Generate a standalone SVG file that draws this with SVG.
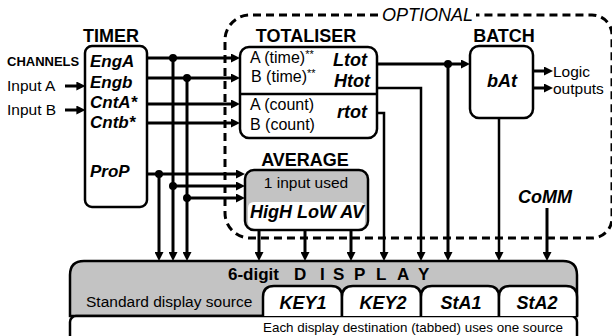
<svg xmlns="http://www.w3.org/2000/svg" width="612" height="336" viewBox="0 0 612 336">
<defs>
<style>
.box{fill:#fff;stroke:#000;stroke-width:2.5}
.grey{fill:#c3c3c3;stroke:#000;stroke-width:2.5}
.ln{fill:none;stroke:#000;stroke-width:3}
.th{fill:none;stroke:#000;stroke-width:2.5}
.dash{fill:none;stroke:#000;stroke-width:3;stroke-dasharray:8 5}
.t{font-family:"Liberation Sans",Arial,sans-serif;fill:#000}
.r{font-size:15.5px}
.r16{font-size:16px}
.h{font-size:18px;font-weight:bold}
.bi{font-size:18px;font-weight:bold;font-style:italic}
.tl{font-size:17px;font-weight:bold;font-style:italic}
</style>
<marker id="ah" viewBox="0 0 10 10" refX="4" refY="5" markerWidth="9" markerHeight="9" markerUnits="userSpaceOnUse" orient="auto">
<path d="M0,0 L10,5 L0,10 Z" fill="#000"/>
</marker>
</defs>
<rect width="612" height="336" fill="#fff"/>

<g id="optional">
<path class="dash" d="M378,15 H250 A25,25 0 0 0 225,40 V213 A25,25 0 0 0 250,238 H592 A20,20 0 0 0 612,218 V35 A20,20 0 0 0 592,15 H476"/>
<text class="t" x="382" y="21" font-size="18" font-style="italic">OPTIONAL</text>
</g>

<g id="timer">
<text class="t h" x="111" y="42" text-anchor="middle">TIMER</text>
<rect class="box" x="85" y="46" width="62" height="161" rx="7"/>
<text class="t tl" x="90" y="67">EngA</text>
<text class="t tl" x="90" y="87.5">Engb</text>
<text class="t tl" x="90" y="107.5">CntA*</text>
<text class="t tl" x="90" y="127.5">Cntb*</text>
<text class="t tl" x="90" y="177">ProP</text>
</g>

<g id="inputs">
<text class="t" x="7" y="66" font-size="13" font-weight="bold">CHANNELS</text>
<text class="t r" x="7" y="91">Input A</text>
<text class="t r" x="7" y="115">Input B</text>
</g>

<g id="totaliser">
<text class="t h" x="306" y="42" text-anchor="middle">TOTALISER</text>
<rect class="box" x="240" y="47" width="137" height="91" rx="9"/>
<line class="th" x1="240" y1="94" x2="377" y2="94"/>
<text class="t r16" x="250" y="63">A (time)<tspan font-size="11" dy="-5">**</tspan></text>
<text class="t r16" x="251" y="82">B (time)<tspan font-size="11" dy="-5">**</tspan></text>
<text class="t r16" x="250" y="110">A (count)</text>
<text class="t r16" x="250" y="130">B (count)</text>
<text class="t bi" x="367" y="66" text-anchor="end">Ltot</text>
<text class="t bi" x="370" y="87" text-anchor="end">Htot</text>
<text class="t bi" x="367" y="118" text-anchor="end">rtot</text>
</g>

<g id="average">
<text class="t h" x="305" y="166" text-anchor="middle">AVERAGE</text>
<rect class="grey" x="245" y="170" width="123" height="60" rx="9"/>
<path d="M248,208 Q248,202 254,202 H359 Q365,202 365,208 V222 Q365,228.5 358,228.5 H255 Q248,228.5 248,222 Z" fill="#fff"/>
<text class="t r" x="306" y="188" text-anchor="middle">1 input used</text>
<text class="t bi" x="307" y="218" text-anchor="middle">HigH LoW AV</text>
</g>

<g id="batch">
<text class="t h" x="504" y="42" text-anchor="middle">BATCH</text>
<rect class="box" x="470" y="46" width="63" height="72" rx="9"/>
<text class="t bi" x="502" y="87" text-anchor="middle">bAt</text>
<text class="t r" x="553" y="77">Logic</text>
<text class="t r" x="553" y="94">outputs</text>
</g>

<g id="comm">
<text class="t bi" x="545" y="203" text-anchor="middle">CoMM</text>
</g>

<g id="display">
<path class="grey" d="M70,316 V275 Q70,261 84,261 H563 Q577,261 577,275 V316 Z"/>
<rect class="box" x="70" y="316" width="507" height="32" rx="6"/>
<path class="box" d="M263,316 V297 Q263,286 274,286 H331 Q342,286 342,297 V316"/>
<path class="box" d="M342,316 V297 Q342,286 353,286 H410 Q421,286 421,297 V316"/>
<path class="box" d="M421,316 V297 Q421,286 432,286 H488 Q499,286 499,297 V316"/>
<path class="box" d="M499,316 V297 Q499,286 510,286 H566 Q577,286 577,297 V316"/>
<text class="t" font-size="17" font-weight="bold" y="280"><tspan x="228">6-digit</tspan><tspan x="294">D</tspan><tspan x="320">I</tspan><tspan x="333">S</tspan><tspan x="354">P</tspan><tspan x="376">L</tspan><tspan x="397">A</tspan><tspan x="418">Y</tspan></text>
<text class="t r" x="86" y="307">Standard display source</text>
<text class="t bi" x="303" y="309" text-anchor="middle" font-size="19">KEY1</text>
<text class="t bi" x="383" y="309" text-anchor="middle" font-size="19">KEY2</text>
<text class="t bi" x="461" y="309" text-anchor="middle" font-size="19">StA1</text>
<text class="t bi" x="537" y="309" text-anchor="middle" font-size="19">StA2</text>
<text class="t" x="263" y="332" font-size="13.4">Each display destination (tabbed) uses one source</text>
</g>

<g id="connectors">
<path class="ln" d="M65,86 H80" marker-end="url(#ah)"/>
<path class="ln" d="M65,110 H80" marker-end="url(#ah)"/>
<path class="ln" d="M147,58 H234.6" marker-end="url(#ah)"/>
<path class="ln" d="M147,78 H234.6" marker-end="url(#ah)"/>
<path class="ln" d="M147,104 H234.6" marker-end="url(#ah)"/>
<path class="ln" d="M147,123 H234.6" marker-end="url(#ah)"/>
<path class="ln" d="M147,174 H239.6" marker-end="url(#ah)"/>
<path class="ln" d="M173,186 H239.6" marker-end="url(#ah)"/>
<path class="ln" d="M187,198 H239.6" marker-end="url(#ah)"/>
<path class="ln" d="M159,174 V255.6" marker-end="url(#ah)"/>
<path class="ln" d="M173,58 V255.6" marker-end="url(#ah)"/>
<path class="ln" d="M187,78 V255.6" marker-end="url(#ah)"/>
<path class="ln" d="M259,230 V255.6" marker-end="url(#ah)"/>
<path class="ln" d="M305,230 V255.6" marker-end="url(#ah)"/>
<path class="ln" d="M351,230 V255.6" marker-end="url(#ah)"/>
<path class="ln" d="M377,64 H464.6" marker-end="url(#ah)"/>
<path class="ln" d="M448,64 V255.6" marker-end="url(#ah)"/>
<path class="th" d="M377,88 H421 V255.6" marker-end="url(#ah)"/>
<path class="th" d="M377,113 H384 V255.6" marker-end="url(#ah)"/>
<path class="th" d="M499,118 V255.6" marker-end="url(#ah)"/>
<path class="ln" d="M533,71 H547.6" marker-end="url(#ah)"/>
<path class="ln" d="M533,88 H547.6" marker-end="url(#ah)"/>
<path class="ln" d="M547,208 V255.6" marker-end="url(#ah)"/>
<circle cx="173" cy="58" r="4"/>
<circle cx="187" cy="78" r="4"/>
<circle cx="159" cy="174" r="4"/>
<circle cx="173" cy="186" r="4"/>
<circle cx="187" cy="198" r="4"/>
<circle cx="448" cy="64" r="4"/>
</g>
</svg>
